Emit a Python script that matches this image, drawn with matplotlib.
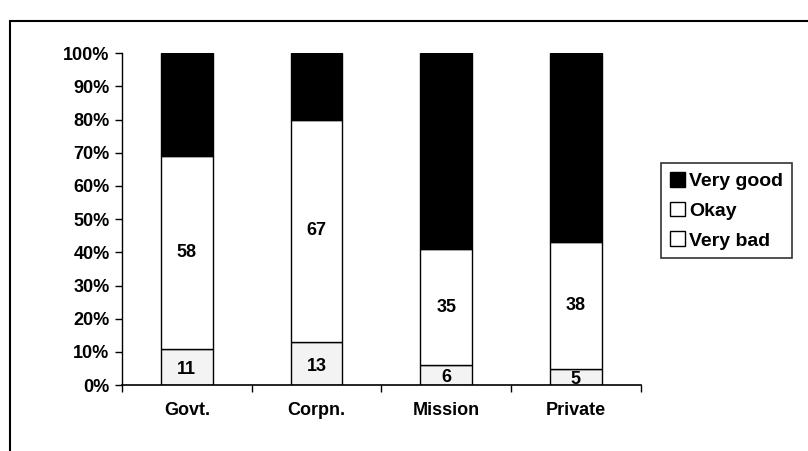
import matplotlib.pyplot as plt
import matplotlib.patches as mpatches
import numpy as np

plt.rcParams['font.family'] = ['Liberation Sans', 'DejaVu Sans']
plt.rcParams['font.weight'] = 'bold'

# 데이터
categories = ['Govt.', 'Corpn.', 'Mission', 'Private']
very_bad = [11, 13, 6, 5]
okay = [58, 67, 35, 38]
very_good = [31, 20, 59, 57]

fig = plt.figure(figsize=(8.08, 4.51), dpi=100)
ax = fig.add_axes([0.151, 0.146, 0.642, 0.736])

x = np.arange(len(categories))
w = 0.4
vb = np.array(very_bad)
ok = np.array(okay)
vg = np.array(very_good)

b1 = ax.bar(x, vb, w, color='#f3f3f3', edgecolor='black', linewidth=1, label='Very bad')
b2 = ax.bar(x, ok, w, bottom=vb, color='white', edgecolor='black', linewidth=1, label='Okay')
b3 = ax.bar(x, vg, w, bottom=vb + ok, color='black', edgecolor='black', linewidth=1, label='Very good')

for i in range(len(categories)):
    ax.text(x[i], vb[i] / 2 - 0.8, str(vb[i]), ha='center', va='center', fontsize=13, fontweight='bold')
    ax.text(x[i], vb[i] + ok[i] / 2, str(ok[i]), ha='center', va='center', fontsize=13, fontweight='bold')

ax.set_xlim(-0.5, 3.5)
ax.set_ylim(0, 100)
ax.set_yticks(np.arange(0, 101, 10))
ax.set_yticklabels([f'{v}%' for v in range(0, 101, 10)], fontsize=13, fontweight='bold')
ax.set_xticks(x)
ax.set_xticklabels(categories, fontsize=13, fontweight='bold')
ax.tick_params(axis='x', length=0, pad=12)
ax.set_xticks(np.arange(-0.5, 4, 1), minor=True)
ax.tick_params(axis='x', which='minor', length=5, width=1, direction='out')
ax.tick_params(axis='y', length=5, width=1, direction='out', pad=4)
for s in ['top', 'right']:
    ax.spines[s].set_visible(False)
ax.spines['left'].set_linewidth(1)
ax.spines['bottom'].set_linewidth(1.2)

# 범례
handles = [b3, b2, b1]
leg = fig.legend(handles, ['Very good', 'Okay', 'Very bad'], loc='upper left',
                 bbox_to_anchor=(661 / 808, 1 - 163 / 451), frameon=True, fancybox=False,
                 edgecolor='black', fontsize=14, handlelength=0.8, handleheight=0.8,
                 handletextpad=0.2, borderpad=0.45, labelspacing=0.6, borderaxespad=0)
leg.get_frame().set_linewidth(1.2)
leg.legend_handles[2].set_facecolor('white')

# 외곽 테두리
fig.patches.append(mpatches.Rectangle((10 / 808, -0.1), 1.2, 1 - 21 / 451 + 0.1,
                                      transform=fig.transFigure, fill=False,
                                      edgecolor='black', linewidth=1.5))

plt.savefig('out.png', dpi=100)
